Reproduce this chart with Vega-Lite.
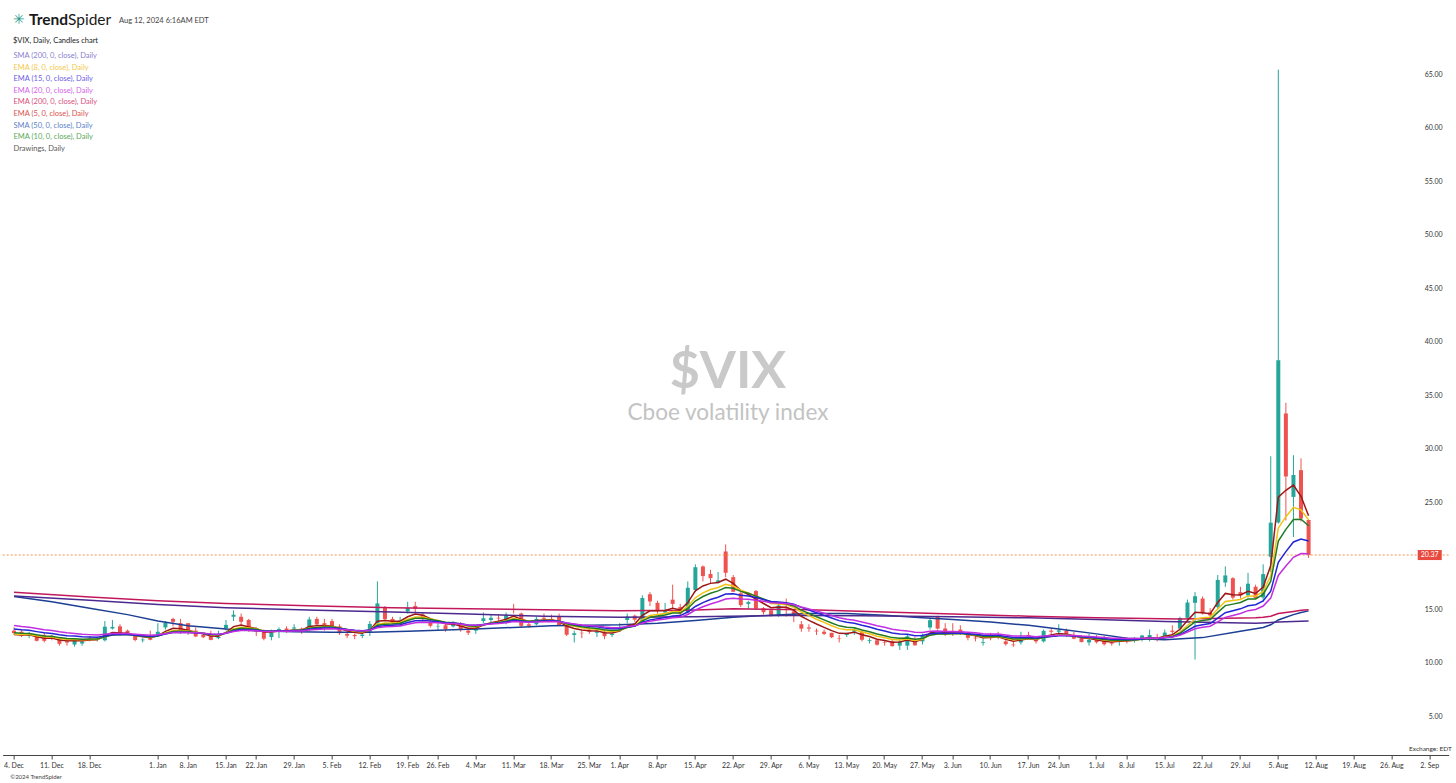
{
"$schema":"https://vega.github.io/schema/vega-lite/v6.json",
"width":1446,"height":755,
"autosize":{"type":"none"},
"padding":{"left":2.65,"top":0,"right":7.35,"bottom":28},
"background":"white",
"config":{"view":{"stroke":null},"font":"Lato","axis":{"grid":false}},
"datasets":{
"candles":[
{"d":"2023-12-04","o":13.3,"h":13.6,"l":12.9,"c":13.08},{"d":"2023-12-05","o":13.2,"h":13.4,"l":12.7,"c":12.85},{"d":"2023-12-06","o":12.8,"h":13.2,"l":12.6,"c":12.97},{"d":"2023-12-07","o":12.8,"h":12.9,"l":12.3,"c":12.35},{"d":"2023-12-08","o":12.9,"h":13.1,"l":12.2,"c":12.35},
{"d":"2023-12-11","o":12.7,"h":12.9,"l":12.4,"c":12.63},{"d":"2023-12-12","o":12.5,"h":12.6,"l":11.9,"c":12.07},{"d":"2023-12-13","o":12.3,"h":12.6,"l":11.9,"c":12.19},{"d":"2023-12-14","o":12.0,"h":12.6,"l":11.8,"c":12.48},{"d":"2023-12-15","o":12.1,"h":12.4,"l":11.9,"c":12.28},
{"d":"2023-12-18","o":12.6,"h":12.8,"l":12.3,"c":12.56},{"d":"2023-12-19","o":12.45,"h":12.7,"l":12.3,"c":12.53},{"d":"2023-12-20","o":12.4,"h":14.2,"l":12.3,"c":13.67},{"d":"2023-12-21","o":13.5,"h":14.3,"l":13.4,"c":13.65},{"d":"2023-12-22","o":13.7,"h":13.9,"l":12.8,"c":13.03},
{"d":"2023-12-26","o":13.3,"h":13.4,"l":12.9,"c":12.99},{"d":"2023-12-27","o":12.9,"h":13.0,"l":12.3,"c":12.43},{"d":"2023-12-28","o":12.4,"h":12.6,"l":12.2,"c":12.47},{"d":"2023-12-29","o":12.6,"h":13.3,"l":12.4,"c":12.45},
{"d":"2024-01-02","o":12.9,"h":14.0,"l":12.8,"c":13.2},{"d":"2024-01-03","o":13.6,"h":14.2,"l":13.4,"c":14.04},{"d":"2024-01-04","o":14.4,"h":14.5,"l":13.7,"c":14.13},{"d":"2024-01-05","o":14.0,"h":14.4,"l":13.0,"c":13.35},
{"d":"2024-01-08","o":14.0,"h":14.0,"l":12.9,"c":13.08},{"d":"2024-01-09","o":13.3,"h":13.6,"l":12.7,"c":12.76},{"d":"2024-01-10","o":12.9,"h":13.0,"l":12.6,"c":12.69},{"d":"2024-01-11","o":12.9,"h":13.3,"l":12.4,"c":12.44},{"d":"2024-01-12","o":12.6,"h":13.3,"l":12.5,"c":12.7},
{"d":"2024-01-16","o":13.5,"h":14.3,"l":13.3,"c":13.84},{"d":"2024-01-17","o":14.6,"h":15.2,"l":14.2,"c":14.79},{"d":"2024-01-18","o":14.6,"h":14.9,"l":13.8,"c":14.13},{"d":"2024-01-19","o":14.3,"h":14.4,"l":13.2,"c":13.3},
{"d":"2024-01-22","o":13.3,"h":13.6,"l":12.8,"c":13.19},{"d":"2024-01-23","o":13.2,"h":13.4,"l":12.4,"c":12.55},{"d":"2024-01-24","o":12.7,"h":13.4,"l":12.4,"c":13.14},{"d":"2024-01-25","o":13.3,"h":13.6,"l":12.6,"c":13.45},{"d":"2024-01-26","o":13.5,"h":13.7,"l":13.1,"c":13.26},
{"d":"2024-01-29","o":13.5,"h":13.9,"l":13.2,"c":13.6},{"d":"2024-01-30","o":13.5,"h":13.6,"l":13.0,"c":13.31},{"d":"2024-01-31","o":13.6,"h":14.6,"l":13.3,"c":14.35},
{"d":"2024-02-01","o":14.4,"h":14.6,"l":13.8,"c":13.88},{"d":"2024-02-02","o":14.0,"h":14.4,"l":13.3,"c":13.85},{"d":"2024-02-05","o":14.2,"h":14.4,"l":13.5,"c":13.67},{"d":"2024-02-06","o":13.7,"h":13.9,"l":12.9,"c":13.06},{"d":"2024-02-07","o":13.0,"h":13.3,"l":12.6,"c":12.83},
{"d":"2024-02-08","o":12.9,"h":13.0,"l":12.5,"c":12.79},{"d":"2024-02-09","o":12.8,"h":13.1,"l":12.6,"c":12.93},{"d":"2024-02-12","o":13.2,"h":14.2,"l":12.8,"c":13.93},{"d":"2024-02-13","o":14.0,"h":17.9,"l":13.9,"c":15.85},{"d":"2024-02-14","o":15.5,"h":15.6,"l":14.3,"c":14.38},
{"d":"2024-02-15","o":14.4,"h":14.6,"l":13.9,"c":14.01},{"d":"2024-02-16","o":13.9,"h":14.6,"l":13.7,"c":14.24},{"d":"2024-02-20","o":15.1,"h":16.0,"l":14.9,"c":15.42},{"d":"2024-02-21","o":15.6,"h":16.0,"l":15.0,"c":15.34},{"d":"2024-02-22","o":14.8,"h":15.0,"l":14.2,"c":14.54},
{"d":"2024-02-23","o":14.1,"h":14.3,"l":13.6,"c":13.75},{"d":"2024-02-26","o":13.7,"h":14.0,"l":13.3,"c":13.74},{"d":"2024-02-27","o":13.8,"h":13.9,"l":13.2,"c":13.43},{"d":"2024-02-28","o":13.7,"h":14.2,"l":13.6,"c":13.84},{"d":"2024-02-29","o":13.9,"h":14.1,"l":13.2,"c":13.4},
{"d":"2024-03-01","o":13.3,"h":13.4,"l":12.9,"c":13.11},{"d":"2024-03-04","o":13.3,"h":13.7,"l":13.0,"c":13.49},{"d":"2024-03-05","o":14.2,"h":15.0,"l":14.0,"c":14.46},{"d":"2024-03-06","o":14.3,"h":14.8,"l":14.0,"c":14.5},{"d":"2024-03-07","o":14.5,"h":14.8,"l":14.1,"c":14.44},
{"d":"2024-03-08","o":14.2,"h":15.0,"l":13.9,"c":14.74},{"d":"2024-03-11","o":15.3,"h":15.8,"l":14.9,"c":15.23},{"d":"2024-03-12","o":14.9,"h":15.0,"l":13.6,"c":13.75},{"d":"2024-03-13","o":13.9,"h":14.2,"l":13.6,"c":13.75},{"d":"2024-03-14","o":13.9,"h":14.6,"l":13.8,"c":14.4},
{"d":"2024-03-15","o":14.5,"h":14.9,"l":14.1,"c":14.41},{"d":"2024-03-18","o":14.4,"h":14.8,"l":14.1,"c":14.33},{"d":"2024-03-19","o":14.6,"h":14.9,"l":13.8,"c":13.82},{"d":"2024-03-20","o":13.8,"h":14.0,"l":12.8,"c":12.92},{"d":"2024-03-21","o":12.9,"h":13.3,"l":12.2,"c":13.06},
{"d":"2024-03-22","o":13.1,"h":13.3,"l":12.6,"c":13.06},{"d":"2024-03-25","o":13.4,"h":13.6,"l":13.0,"c":13.19},{"d":"2024-03-26","o":13.1,"h":13.4,"l":12.7,"c":13.24},{"d":"2024-03-27","o":13.2,"h":13.3,"l":12.5,"c":12.78},{"d":"2024-03-28","o":12.9,"h":13.2,"l":12.7,"c":13.01},
{"d":"2024-04-01","o":13.4,"h":14.0,"l":13.2,"c":13.65},{"d":"2024-04-02","o":14.3,"h":14.9,"l":14.0,"c":14.61},{"d":"2024-04-03","o":14.7,"h":14.8,"l":14.1,"c":14.33},{"d":"2024-04-04","o":14.1,"h":16.6,"l":13.9,"c":16.35},{"d":"2024-04-05","o":16.7,"h":16.9,"l":15.6,"c":16.03},
{"d":"2024-04-08","o":15.9,"h":16.1,"l":14.9,"c":15.19},{"d":"2024-04-09","o":15.0,"h":15.9,"l":14.8,"c":15.2},{"d":"2024-04-10","o":16.2,"h":17.6,"l":15.3,"c":15.8},{"d":"2024-04-11","o":15.5,"h":15.8,"l":14.6,"c":14.91},{"d":"2024-04-12","o":15.0,"h":17.9,"l":14.9,"c":17.31},
{"d":"2024-04-15","o":17.1,"h":19.5,"l":16.9,"c":19.23},{"d":"2024-04-16","o":19.3,"h":19.4,"l":17.9,"c":18.4},{"d":"2024-04-17","o":18.6,"h":19.0,"l":17.7,"c":18.21},{"d":"2024-04-18","o":17.8,"h":18.8,"l":17.7,"c":18.0},{"d":"2024-04-19","o":20.7,"h":21.36,"l":18.3,"c":18.71},
{"d":"2024-04-22","o":18.3,"h":18.5,"l":16.9,"c":16.94},{"d":"2024-04-23","o":16.8,"h":17.0,"l":15.5,"c":15.69},{"d":"2024-04-24","o":15.8,"h":16.1,"l":15.3,"c":15.97},{"d":"2024-04-25","o":17.0,"h":17.1,"l":15.3,"c":15.37},{"d":"2024-04-26","o":15.4,"h":15.5,"l":14.8,"c":15.03},
{"d":"2024-04-29","o":15.2,"h":15.3,"l":14.6,"c":14.67},{"d":"2024-04-30","o":14.7,"h":15.9,"l":14.6,"c":15.65},
{"d":"2024-05-01","o":15.5,"h":16.3,"l":14.6,"c":15.39},{"d":"2024-05-02","o":15.1,"h":15.2,"l":14.1,"c":14.68},{"d":"2024-05-03","o":13.9,"h":14.2,"l":13.2,"c":13.49},
{"d":"2024-05-06","o":13.6,"h":13.9,"l":13.2,"c":13.49},{"d":"2024-05-07","o":13.3,"h":13.5,"l":12.9,"c":13.23},{"d":"2024-05-08","o":13.2,"h":13.4,"l":12.9,"c":13.0},{"d":"2024-05-09","o":13.1,"h":13.1,"l":12.6,"c":12.69},{"d":"2024-05-10","o":12.6,"h":12.9,"l":12.2,"c":12.55},
{"d":"2024-05-13","o":12.9,"h":13.1,"l":12.7,"c":12.99},{"d":"2024-05-14","o":13.2,"h":13.6,"l":12.9,"c":13.42},{"d":"2024-05-15","o":13.2,"h":13.3,"l":12.3,"c":12.45},{"d":"2024-05-16","o":12.35,"h":12.6,"l":12.1,"c":12.42},{"d":"2024-05-17","o":12.4,"h":12.5,"l":11.9,"c":11.99},
{"d":"2024-05-20","o":12.2,"h":12.4,"l":11.9,"c":12.15},{"d":"2024-05-21","o":12.3,"h":12.5,"l":11.8,"c":11.86},{"d":"2024-05-22","o":11.9,"h":12.6,"l":11.5,"c":12.29},{"d":"2024-05-23","o":11.9,"h":12.9,"l":11.5,"c":12.77},{"d":"2024-05-24","o":12.5,"h":12.7,"l":11.9,"c":11.93},
{"d":"2024-05-28","o":12.3,"h":13.0,"l":12.0,"c":12.92},{"d":"2024-05-29","o":13.6,"h":14.5,"l":13.4,"c":14.28},{"d":"2024-05-30","o":14.6,"h":14.7,"l":13.4,"c":13.49},{"d":"2024-05-31","o":13.5,"h":14.0,"l":12.8,"c":12.92},
{"d":"2024-06-03","o":13.2,"h":14.0,"l":12.8,"c":13.11},{"d":"2024-06-04","o":13.4,"h":13.8,"l":12.9,"c":13.16},{"d":"2024-06-05","o":12.9,"h":13.0,"l":12.4,"c":12.63},{"d":"2024-06-06","o":12.65,"h":12.8,"l":12.3,"c":12.58},{"d":"2024-06-07","o":12.15,"h":12.6,"l":11.9,"c":12.22},
{"d":"2024-06-10","o":12.8,"h":13.1,"l":12.4,"c":12.74},{"d":"2024-06-11","o":12.9,"h":13.2,"l":12.5,"c":12.85},{"d":"2024-06-12","o":12.3,"h":12.5,"l":11.9,"c":12.04},{"d":"2024-06-13","o":12.0,"h":12.3,"l":11.8,"c":11.94},{"d":"2024-06-14","o":12.2,"h":13.2,"l":12.0,"c":12.66},
{"d":"2024-06-17","o":12.9,"h":13.2,"l":12.5,"c":12.75},{"d":"2024-06-18","o":12.6,"h":12.8,"l":12.1,"c":12.3},{"d":"2024-06-20","o":12.3,"h":13.4,"l":12.2,"c":13.28},{"d":"2024-06-21","o":13.3,"h":13.5,"l":12.9,"c":13.2},
{"d":"2024-06-24","o":13.2,"h":13.9,"l":12.9,"c":13.33},{"d":"2024-06-25","o":13.3,"h":13.5,"l":12.7,"c":12.84},{"d":"2024-06-26","o":12.9,"h":13.2,"l":12.5,"c":12.55},{"d":"2024-06-27","o":12.6,"h":12.9,"l":12.2,"c":12.24},{"d":"2024-06-28","o":12.2,"h":13.0,"l":11.9,"c":12.44},
{"d":"2024-07-01","o":12.6,"h":12.9,"l":12.1,"c":12.22},{"d":"2024-07-02","o":12.6,"h":12.8,"l":11.9,"c":12.03},{"d":"2024-07-03","o":12.2,"h":12.3,"l":11.9,"c":12.09},{"d":"2024-07-05","o":12.3,"h":12.6,"l":11.9,"c":12.48},
{"d":"2024-07-08","o":12.6,"h":12.7,"l":12.1,"c":12.37},{"d":"2024-07-09","o":12.4,"h":12.7,"l":12.2,"c":12.51},{"d":"2024-07-10","o":12.6,"h":12.9,"l":12.3,"c":12.85},{"d":"2024-07-11","o":12.6,"h":13.4,"l":12.3,"c":12.89},{"d":"2024-07-12","o":12.6,"h":13.0,"l":12.3,"c":12.46},
{"d":"2024-07-15","o":12.7,"h":13.4,"l":12.6,"c":13.12},{"d":"2024-07-16","o":13.3,"h":13.8,"l":12.9,"c":13.19},{"d":"2024-07-17","o":13.5,"h":14.6,"l":13.3,"c":14.48},{"d":"2024-07-18","o":14.5,"h":16.2,"l":14.2,"c":15.93},{"d":"2024-07-19","o":15.9,"h":16.9,"l":10.6,"c":16.52},
{"d":"2024-07-22","o":16.3,"h":16.5,"l":14.8,"c":14.91},{"d":"2024-07-23","o":15.0,"h":15.4,"l":14.5,"c":14.72},{"d":"2024-07-24","o":15.5,"h":18.5,"l":15.3,"c":18.04},{"d":"2024-07-25","o":17.8,"h":19.3,"l":17.4,"c":18.46},{"d":"2024-07-26","o":18.2,"h":18.3,"l":16.2,"c":16.39},
{"d":"2024-07-29","o":16.9,"h":17.4,"l":16.3,"c":16.6},{"d":"2024-07-30","o":16.6,"h":18.7,"l":16.4,"c":17.69},{"d":"2024-07-31","o":17.4,"h":17.6,"l":16.3,"c":16.36},
{"d":"2024-08-01","o":16.4,"h":19.5,"l":16.0,"c":18.59},{"d":"2024-08-02","o":20.2,"h":29.6,"l":18.8,"c":23.39},
{"d":"2024-08-05","o":23.4,"h":65.73,"l":23.3,"c":38.57},{"d":"2024-08-06","o":33.6,"h":34.6,"l":23.6,"c":27.71},{"d":"2024-08-07","o":25.8,"h":29.7,"l":22.05,"c":27.85},{"d":"2024-08-08","o":28.3,"h":29.4,"l":23.5,"c":23.79},{"d":"2024-08-09","o":23.64,"h":23.7,"l":20.1,"c":20.37}
],
"ema":[
{"d":"2023-12-04","e5":12.93,"e8":12.98,"e10":13.10,"e15":13.45,"e20":13.78},
{"d":"2023-12-05","e5":12.90,"e8":12.95,"e10":13.05,"e15":13.38,"e20":13.69},
{"d":"2023-12-06","e5":12.92,"e8":12.95,"e10":13.04,"e15":13.33,"e20":13.62},
{"d":"2023-12-07","e5":12.73,"e8":12.82,"e10":12.91,"e15":13.21,"e20":13.50},
{"d":"2023-12-08","e5":12.60,"e8":12.72,"e10":12.81,"e15":13.10,"e20":13.39},
{"d":"2023-12-11","e5":12.61,"e8":12.70,"e10":12.78,"e15":13.04,"e20":13.32},
{"d":"2023-12-12","e5":12.43,"e8":12.56,"e10":12.65,"e15":12.92,"e20":13.20},
{"d":"2023-12-13","e5":12.35,"e8":12.48,"e10":12.57,"e15":12.83,"e20":13.10},
{"d":"2023-12-14","e5":12.39,"e8":12.48,"e10":12.55,"e15":12.79,"e20":13.04},
{"d":"2023-12-15","e5":12.35,"e8":12.44,"e10":12.50,"e15":12.73,"e20":12.97},
{"d":"2023-12-18","e5":12.42,"e8":12.47,"e10":12.51,"e15":12.71,"e20":12.93},
{"d":"2023-12-19","e5":12.46,"e8":12.48,"e10":12.51,"e15":12.69,"e20":12.89},
{"d":"2023-12-20","e5":12.86,"e8":12.74,"e10":12.72,"e15":12.81,"e20":12.96},
{"d":"2023-12-21","e5":13.12,"e8":12.94,"e10":12.89,"e15":12.92,"e20":13.03},
{"d":"2023-12-22","e5":13.09,"e8":12.96,"e10":12.92,"e15":12.93,"e20":13.03},
{"d":"2023-12-26","e5":13.06,"e8":12.97,"e10":12.93,"e15":12.94,"e20":13.03},
{"d":"2023-12-27","e5":12.85,"e8":12.85,"e10":12.84,"e15":12.88,"e20":12.97},
{"d":"2023-12-28","e5":12.72,"e8":12.77,"e10":12.77,"e15":12.83,"e20":12.92},
{"d":"2023-12-29","e5":12.63,"e8":12.70,"e10":12.71,"e15":12.78,"e20":12.88},
{"d":"2024-01-02","e5":12.82,"e8":12.81,"e10":12.80,"e15":12.83,"e20":12.91},
{"d":"2024-01-03","e5":13.23,"e8":13.08,"e10":13.03,"e15":12.98,"e20":13.02},
{"d":"2024-01-04","e5":13.53,"e8":13.31,"e10":13.23,"e15":13.12,"e20":13.13},
{"d":"2024-01-05","e5":13.47,"e8":13.32,"e10":13.25,"e15":13.15,"e20":13.15},
{"d":"2024-01-08","e5":13.34,"e8":13.27,"e10":13.22,"e15":13.14,"e20":13.14},
{"d":"2024-01-09","e5":13.15,"e8":13.16,"e10":13.14,"e15":13.09,"e20":13.10},
{"d":"2024-01-10","e5":13.00,"e8":13.06,"e10":13.06,"e15":13.04,"e20":13.06},
{"d":"2024-01-11","e5":12.81,"e8":12.92,"e10":12.95,"e15":12.97,"e20":13.00},
{"d":"2024-01-12","e5":12.77,"e8":12.87,"e10":12.90,"e15":12.94,"e20":12.97},
{"d":"2024-01-16","e5":13.13,"e8":13.09,"e10":13.07,"e15":13.05,"e20":13.05},
{"d":"2024-01-17","e5":13.68,"e8":13.47,"e10":13.38,"e15":13.27,"e20":13.22},
{"d":"2024-01-18","e5":13.83,"e8":13.62,"e10":13.52,"e15":13.38,"e20":13.31},
{"d":"2024-01-19","e5":13.65,"e8":13.55,"e10":13.48,"e15":13.37,"e20":13.31},
{"d":"2024-01-22","e5":13.50,"e8":13.47,"e10":13.43,"e15":13.35,"e20":13.30},
{"d":"2024-01-23","e5":13.18,"e8":13.27,"e10":13.27,"e15":13.25,"e20":13.23},
{"d":"2024-01-24","e5":13.17,"e8":13.24,"e10":13.25,"e15":13.24,"e20":13.22},
{"d":"2024-01-25","e5":13.26,"e8":13.29,"e10":13.29,"e15":13.27,"e20":13.24},
{"d":"2024-01-26","e5":13.26,"e8":13.28,"e10":13.28,"e15":13.27,"e20":13.24},
{"d":"2024-01-29","e5":13.37,"e8":13.35,"e10":13.34,"e15":13.31,"e20":13.27},
{"d":"2024-01-30","e5":13.35,"e8":13.34,"e10":13.33,"e15":13.31,"e20":13.27},
{"d":"2024-01-31","e5":13.68,"e8":13.56,"e10":13.52,"e15":13.44,"e20":13.37},
{"d":"2024-02-01","e5":13.75,"e8":13.63,"e10":13.59,"e15":13.50,"e20":13.42},
{"d":"2024-02-02","e5":13.78,"e8":13.68,"e10":13.64,"e15":13.54,"e20":13.46},
{"d":"2024-02-05","e5":13.74,"e8":13.68,"e10":13.65,"e15":13.56,"e20":13.48},
{"d":"2024-02-06","e5":13.51,"e8":13.54,"e10":13.54,"e15":13.50,"e20":13.44},
{"d":"2024-02-07","e5":13.28,"e8":13.38,"e10":13.41,"e15":13.42,"e20":13.38},
{"d":"2024-02-08","e5":13.12,"e8":13.25,"e10":13.30,"e15":13.34,"e20":13.32},
{"d":"2024-02-09","e5":13.06,"e8":13.18,"e10":13.23,"e15":13.29,"e20":13.28},
{"d":"2024-02-12","e5":13.35,"e8":13.35,"e10":13.36,"e15":13.37,"e20":13.34},
{"d":"2024-02-13","e5":14.18,"e8":13.91,"e10":13.81,"e15":13.68,"e20":13.58},
{"d":"2024-02-14","e5":14.25,"e8":14.01,"e10":13.91,"e15":13.77,"e20":13.66},
{"d":"2024-02-15","e5":14.17,"e8":14.01,"e10":13.93,"e15":13.80,"e20":13.69},
{"d":"2024-02-16","e5":14.19,"e8":14.06,"e10":13.99,"e15":13.86,"e20":13.74},
{"d":"2024-02-20","e5":14.60,"e8":14.36,"e10":14.25,"e15":14.06,"e20":13.90},
{"d":"2024-02-21","e5":14.85,"e8":14.58,"e10":14.45,"e15":14.22,"e20":14.04},
{"d":"2024-02-22","e5":14.75,"e8":14.57,"e10":14.47,"e15":14.26,"e20":14.09},
{"d":"2024-02-23","e5":14.42,"e8":14.39,"e10":14.34,"e15":14.20,"e20":14.06},
{"d":"2024-02-26","e5":14.19,"e8":14.25,"e10":14.23,"e15":14.14,"e20":14.03},
{"d":"2024-02-27","e5":13.94,"e8":14.07,"e10":14.08,"e15":14.05,"e20":13.97},
{"d":"2024-02-28","e5":13.91,"e8":14.02,"e10":14.04,"e15":14.02,"e20":13.96},
{"d":"2024-02-29","e5":13.74,"e8":13.88,"e10":13.92,"e15":13.94,"e20":13.91},
{"d":"2024-03-01","e5":13.53,"e8":13.71,"e10":13.77,"e15":13.84,"e20":13.83},
{"d":"2024-03-04","e5":13.52,"e8":13.66,"e10":13.72,"e15":13.80,"e20":13.80},
{"d":"2024-03-05","e5":13.83,"e8":13.84,"e10":13.85,"e15":13.88,"e20":13.86},
{"d":"2024-03-06","e5":14.05,"e8":13.99,"e10":13.97,"e15":13.96,"e20":13.92},
{"d":"2024-03-07","e5":14.18,"e8":14.09,"e10":14.06,"e15":14.02,"e20":13.97},
{"d":"2024-03-08","e5":14.37,"e8":14.23,"e10":14.18,"e15":14.11,"e20":14.04},
{"d":"2024-03-11","e5":14.66,"e8":14.45,"e10":14.37,"e15":14.25,"e20":14.15},
{"d":"2024-03-12","e5":14.36,"e8":14.29,"e10":14.26,"e15":14.19,"e20":14.11},
{"d":"2024-03-13","e5":14.16,"e8":14.17,"e10":14.17,"e15":14.14,"e20":14.08},
{"d":"2024-03-14","e5":14.24,"e8":14.22,"e10":14.21,"e15":14.17,"e20":14.11},
{"d":"2024-03-15","e5":14.30,"e8":14.26,"e10":14.25,"e15":14.20,"e20":14.14},
{"d":"2024-03-18","e5":14.31,"e8":14.28,"e10":14.26,"e15":14.22,"e20":14.16},
{"d":"2024-03-19","e5":14.15,"e8":14.18,"e10":14.18,"e15":14.17,"e20":14.13},
{"d":"2024-03-20","e5":13.74,"e8":13.90,"e10":13.95,"e15":14.01,"e20":14.01},
{"d":"2024-03-21","e5":13.51,"e8":13.71,"e10":13.79,"e15":13.89,"e20":13.92},
{"d":"2024-03-22","e5":13.36,"e8":13.57,"e10":13.66,"e15":13.79,"e20":13.84},
{"d":"2024-03-25","e5":13.30,"e8":13.49,"e10":13.57,"e15":13.72,"e20":13.78},
{"d":"2024-03-26","e5":13.28,"e8":13.43,"e10":13.51,"e15":13.66,"e20":13.73},
{"d":"2024-03-27","e5":13.11,"e8":13.29,"e10":13.38,"e15":13.55,"e20":13.64},
{"d":"2024-03-28","e5":13.08,"e8":13.23,"e10":13.31,"e15":13.48,"e20":13.58},
{"d":"2024-04-01","e5":13.27,"e8":13.32,"e10":13.37,"e15":13.50,"e20":13.59},
{"d":"2024-04-02","e5":13.72,"e8":13.61,"e10":13.60,"e15":13.64,"e20":13.69},
{"d":"2024-04-03","e5":13.92,"e8":13.77,"e10":13.73,"e15":13.73,"e20":13.75},
{"d":"2024-04-04","e5":14.73,"e8":14.34,"e10":14.21,"e15":14.06,"e20":14.00},
{"d":"2024-04-05","e5":15.16,"e8":14.72,"e10":14.54,"e15":14.31,"e20":14.19},
{"d":"2024-04-08","e5":15.17,"e8":14.82,"e10":14.66,"e15":14.42,"e20":14.29},
{"d":"2024-04-09","e5":15.18,"e8":14.90,"e10":14.76,"e15":14.52,"e20":14.38},
{"d":"2024-04-10","e5":15.39,"e8":15.10,"e10":14.95,"e15":14.68,"e20":14.51},
{"d":"2024-04-11","e5":15.23,"e8":15.06,"e10":14.94,"e15":14.71,"e20":14.55},
{"d":"2024-04-12","e5":15.92,"e8":15.56,"e10":15.37,"e15":15.04,"e20":14.81},
{"d":"2024-04-15","e5":17.02,"e8":16.38,"e10":16.07,"e15":15.56,"e20":15.23},
{"d":"2024-04-16","e5":17.48,"e8":16.83,"e10":16.49,"e15":15.92,"e20":15.53},
{"d":"2024-04-17","e5":17.72,"e8":17.14,"e10":16.80,"e15":16.21,"e20":15.79},
{"d":"2024-04-18","e5":17.81,"e8":17.33,"e10":17.02,"e15":16.43,"e20":16.00},
{"d":"2024-04-19","e5":18.11,"e8":17.64,"e10":17.33,"e15":16.72,"e20":16.26},
{"d":"2024-04-22","e5":17.72,"e8":17.48,"e10":17.26,"e15":16.75,"e20":16.32},
{"d":"2024-04-23","e5":17.04,"e8":17.08,"e10":16.97,"e15":16.62,"e20":16.26},
{"d":"2024-04-24","e5":16.68,"e8":16.83,"e10":16.79,"e15":16.54,"e20":16.23},
{"d":"2024-04-25","e5":16.24,"e8":16.51,"e10":16.53,"e15":16.39,"e20":16.15},
{"d":"2024-04-26","e5":15.84,"e8":16.18,"e10":16.26,"e15":16.22,"e20":16.04},
{"d":"2024-04-29","e5":15.45,"e8":15.84,"e10":15.97,"e15":16.03,"e20":15.91},
{"d":"2024-04-30","e5":15.52,"e8":15.80,"e10":15.91,"e15":15.98,"e20":15.89},
{"d":"2024-05-01","e5":15.48,"e8":15.71,"e10":15.82,"e15":15.91,"e20":15.84},
{"d":"2024-05-02","e5":15.21,"e8":15.48,"e10":15.61,"e15":15.76,"e20":15.73},
{"d":"2024-05-03","e5":14.64,"e8":15.04,"e10":15.22,"e15":15.48,"e20":15.52},
{"d":"2024-05-06","e5":14.26,"e8":14.70,"e10":14.91,"e15":15.23,"e20":15.33},
{"d":"2024-05-07","e5":13.92,"e8":14.37,"e10":14.60,"e15":14.98,"e20":15.13},
{"d":"2024-05-08","e5":13.61,"e8":14.07,"e10":14.31,"e15":14.73,"e20":14.93},
{"d":"2024-05-09","e5":13.30,"e8":13.76,"e10":14.02,"e15":14.48,"e20":14.72},
{"d":"2024-05-10","e5":13.05,"e8":13.49,"e10":13.75,"e15":14.24,"e20":14.51},
{"d":"2024-05-13","e5":13.03,"e8":13.38,"e10":13.61,"e15":14.08,"e20":14.37},
{"d":"2024-05-14","e5":13.16,"e8":13.39,"e10":13.58,"e15":14.00,"e20":14.28},
{"d":"2024-05-15","e5":12.92,"e8":13.18,"e10":13.37,"e15":13.81,"e20":14.11},
{"d":"2024-05-16","e5":12.75,"e8":13.01,"e10":13.20,"e15":13.64,"e20":13.95},
{"d":"2024-05-17","e5":12.50,"e8":12.78,"e10":12.98,"e15":13.43,"e20":13.76},
{"d":"2024-05-20","e5":12.38,"e8":12.64,"e10":12.83,"e15":13.27,"e20":13.61},
{"d":"2024-05-21","e5":12.21,"e8":12.47,"e10":12.65,"e15":13.09,"e20":13.44},
{"d":"2024-05-22","e5":12.24,"e8":12.43,"e10":12.58,"e15":12.99,"e20":13.33},
{"d":"2024-05-23","e5":12.42,"e8":12.51,"e10":12.61,"e15":12.96,"e20":13.28},
{"d":"2024-05-24","e5":12.26,"e8":12.38,"e10":12.49,"e15":12.83,"e20":13.15},
{"d":"2024-05-28","e5":12.48,"e8":12.50,"e10":12.57,"e15":12.84,"e20":13.13},
{"d":"2024-05-29","e5":13.08,"e8":12.90,"e10":12.88,"e15":13.02,"e20":13.24},
{"d":"2024-05-30","e5":13.22,"e8":13.03,"e10":12.99,"e15":13.08,"e20":13.26},
{"d":"2024-05-31","e5":13.12,"e8":13.01,"e10":12.98,"e15":13.06,"e20":13.23},
{"d":"2024-06-03","e5":13.12,"e8":13.03,"e10":13.00,"e15":13.07,"e20":13.22},
{"d":"2024-06-04","e5":13.13,"e8":13.06,"e10":13.03,"e15":13.08,"e20":13.21},
{"d":"2024-06-05","e5":12.96,"e8":12.96,"e10":12.96,"e15":13.02,"e20":13.15},
{"d":"2024-06-06","e5":12.83,"e8":12.88,"e10":12.89,"e15":12.97,"e20":13.10},
{"d":"2024-06-07","e5":12.63,"e8":12.73,"e10":12.77,"e15":12.88,"e20":13.02},
{"d":"2024-06-10","e5":12.67,"e8":12.73,"e10":12.76,"e15":12.86,"e20":12.99},
{"d":"2024-06-11","e5":12.73,"e8":12.76,"e10":12.78,"e15":12.86,"e20":12.98},
{"d":"2024-06-12","e5":12.50,"e8":12.60,"e10":12.65,"e15":12.76,"e20":12.89},
{"d":"2024-06-13","e5":12.31,"e8":12.45,"e10":12.52,"e15":12.66,"e20":12.80},
{"d":"2024-06-14","e5":12.43,"e8":12.50,"e10":12.55,"e15":12.66,"e20":12.79},
{"d":"2024-06-17","e5":12.54,"e8":12.56,"e10":12.59,"e15":12.67,"e20":12.79},
{"d":"2024-06-18","e5":12.46,"e8":12.50,"e10":12.54,"e15":12.62,"e20":12.74},
{"d":"2024-06-20","e5":12.73,"e8":12.67,"e10":12.67,"e15":12.70,"e20":12.79},
{"d":"2024-06-21","e5":12.89,"e8":12.79,"e10":12.77,"e15":12.76,"e20":12.83},
{"d":"2024-06-24","e5":13.04,"e8":12.91,"e10":12.87,"e15":12.83,"e20":12.88},
{"d":"2024-06-25","e5":12.97,"e8":12.89,"e10":12.86,"e15":12.83,"e20":12.88},
{"d":"2024-06-26","e5":12.83,"e8":12.81,"e10":12.80,"e15":12.80,"e20":12.85},
{"d":"2024-06-27","e5":12.63,"e8":12.68,"e10":12.70,"e15":12.73,"e20":12.79},
{"d":"2024-06-28","e5":12.57,"e8":12.63,"e10":12.65,"e15":12.69,"e20":12.76},
{"d":"2024-07-01","e5":12.45,"e8":12.54,"e10":12.57,"e15":12.63,"e20":12.71},
{"d":"2024-07-02","e5":12.31,"e8":12.43,"e10":12.47,"e15":12.56,"e20":12.65},
{"d":"2024-07-03","e5":12.24,"e8":12.35,"e10":12.40,"e15":12.50,"e20":12.60},
{"d":"2024-07-05","e5":12.32,"e8":12.38,"e10":12.41,"e15":12.50,"e20":12.59},
{"d":"2024-07-08","e5":12.34,"e8":12.38,"e10":12.40,"e15":12.48,"e20":12.57},
{"d":"2024-07-09","e5":12.40,"e8":12.41,"e10":12.42,"e15":12.48,"e20":12.56},
{"d":"2024-07-10","e5":12.55,"e8":12.51,"e10":12.50,"e15":12.53,"e20":12.59},
{"d":"2024-07-11","e5":12.66,"e8":12.59,"e10":12.57,"e15":12.58,"e20":12.62},
{"d":"2024-07-12","e5":12.59,"e8":12.56,"e10":12.55,"e15":12.57,"e20":12.60},
{"d":"2024-07-15","e5":12.77,"e8":12.68,"e10":12.65,"e15":12.64,"e20":12.65},
{"d":"2024-07-16","e5":12.91,"e8":12.79,"e10":12.75,"e15":12.71,"e20":12.70},
{"d":"2024-07-17","e5":13.43,"e8":13.17,"e10":13.06,"e15":12.93,"e20":12.87},
{"d":"2024-07-18","e5":14.26,"e8":13.78,"e10":13.58,"e15":13.31,"e20":13.16},
{"d":"2024-07-19","e5":15.01,"e8":14.39,"e10":14.11,"e15":13.71,"e20":13.48},
{"d":"2024-07-22","e5":14.98,"e8":14.51,"e10":14.26,"e15":13.86,"e20":13.62},
{"d":"2024-07-23","e5":14.89,"e8":14.56,"e10":14.34,"e15":13.97,"e20":13.72},
{"d":"2024-07-24","e5":15.94,"e8":15.33,"e10":15.01,"e15":14.48,"e20":14.13},
{"d":"2024-07-25","e5":16.78,"e8":16.03,"e10":15.64,"e15":14.98,"e20":14.54},
{"d":"2024-07-26","e5":16.65,"e8":16.11,"e10":15.78,"e15":15.16,"e20":14.72},
{"d":"2024-07-29","e5":16.63,"e8":16.22,"e10":15.93,"e15":15.34,"e20":14.90},
{"d":"2024-07-30","e5":16.98,"e8":16.55,"e10":16.25,"e15":15.63,"e20":15.17},
{"d":"2024-07-31","e5":16.77,"e8":16.51,"e10":16.27,"e15":15.72,"e20":15.28},
{"d":"2024-08-01","e5":17.38,"e8":16.97,"e10":16.69,"e15":16.08,"e20":15.60},
{"d":"2024-08-02","e5":19.38,"e8":18.40,"e10":17.91,"e15":16.99,"e20":16.34},
{"d":"2024-08-05","e5":25.78,"e8":22.88,"e10":21.67,"e15":19.69,"e20":18.46},
{"d":"2024-08-06","e5":26.42,"e8":23.95,"e10":22.77,"e15":20.69,"e20":19.34},
{"d":"2024-08-07","e5":26.90,"e8":24.82,"e10":23.69,"e15":21.59,"e20":20.15},
{"d":"2024-08-08","e5":25.86,"e8":24.59,"e10":23.71,"e15":21.87,"e20":20.50},
{"d":"2024-08-09","e5":24.03,"e8":23.65,"e10":23.10,"e15":21.68,"e20":20.49}
],
"long":[
{"d":"2023-12-04","s":"s50","v":16.5},{"d":"2023-12-11","s":"s50","v":16.0},{"d":"2023-12-18","s":"s50","v":15.4},{"d":"2023-12-26","s":"s50","v":14.8},{"d":"2024-01-02","s":"s50","v":14.2},{"d":"2024-01-08","s":"s50","v":13.75},{"d":"2024-01-16","s":"s50","v":13.45},{"d":"2024-01-22","s":"s50","v":13.3},{"d":"2024-01-29","s":"s50","v":13.2},{"d":"2024-02-05","s":"s50","v":13.15},{"d":"2024-02-12","s":"s50","v":13.15},{"d":"2024-02-20","s":"s50","v":13.25},{"d":"2024-02-26","s":"s50","v":13.35},{"d":"2024-03-04","s":"s50","v":13.45},{"d":"2024-03-11","s":"s50","v":13.6},{"d":"2024-03-18","s":"s50","v":13.75},{"d":"2024-03-25","s":"s50","v":13.8},{"d":"2024-04-01","s":"s50","v":13.85},{"d":"2024-04-08","s":"s50","v":14.0},{"d":"2024-04-15","s":"s50","v":14.25},{"d":"2024-04-22","s":"s50","v":14.55},{"d":"2024-04-29","s":"s50","v":14.75},{"d":"2024-05-06","s":"s50","v":14.9},{"d":"2024-05-13","s":"s50","v":14.9},{"d":"2024-05-20","s":"s50","v":14.75},{"d":"2024-05-28","s":"s50","v":14.5},{"d":"2024-06-03","s":"s50","v":14.35},{"d":"2024-06-10","s":"s50","v":14.1},{"d":"2024-06-17","s":"s50","v":13.8},{"d":"2024-06-24","s":"s50","v":13.45},{"d":"2024-07-01","s":"s50","v":13.0},{"d":"2024-07-08","s":"s50","v":12.6},{"d":"2024-07-15","s":"s50","v":12.45},{"d":"2024-07-22","s":"s50","v":12.65},{"d":"2024-07-29","s":"s50","v":13.25},{"d":"2024-08-01","s":"s50","v":13.6},{"d":"2024-08-02","s":"s50","v":13.85},{"d":"2024-08-05","s":"s50","v":14.3},{"d":"2024-08-06","s":"s50","v":14.55},{"d":"2024-08-07","s":"s50","v":14.8},{"d":"2024-08-08","s":"s50","v":15.0},{"d":"2024-08-09","s":"s50","v":15.15},
{"d":"2023-12-04","s":"s200","v":16.55},{"d":"2023-12-18","s":"s200","v":16.15},{"d":"2024-01-02","s":"s200","v":15.75},{"d":"2024-01-16","s":"s200","v":15.45},{"d":"2024-02-01","s":"s200","v":15.2},{"d":"2024-02-15","s":"s200","v":15.05},{"d":"2024-03-01","s":"s200","v":14.85},{"d":"2024-03-15","s":"s200","v":14.65},{"d":"2024-04-01","s":"s200","v":14.55},{"d":"2024-04-15","s":"s200","v":14.6},{"d":"2024-05-01","s":"s200","v":14.72},{"d":"2024-05-15","s":"s200","v":14.7},{"d":"2024-06-03","s":"s200","v":14.6},{"d":"2024-06-17","s":"s200","v":14.5},{"d":"2024-07-01","s":"s200","v":14.35},{"d":"2024-07-15","s":"s200","v":14.15},{"d":"2024-07-31","s":"s200","v":14.0},{"d":"2024-08-05","s":"s200","v":14.1},{"d":"2024-08-09","s":"s200","v":14.2},
{"d":"2023-12-04","s":"x200","v":16.9},{"d":"2023-12-18","s":"x200","v":16.45},{"d":"2024-01-02","s":"x200","v":16.1},{"d":"2024-01-16","s":"x200","v":15.85},{"d":"2024-02-01","s":"x200","v":15.6},{"d":"2024-02-15","s":"x200","v":15.45},{"d":"2024-03-01","s":"x200","v":15.35},{"d":"2024-03-15","s":"x200","v":15.25},{"d":"2024-04-01","s":"x200","v":15.15},{"d":"2024-04-12","s":"x200","v":15.2},{"d":"2024-04-22","s":"x200","v":15.35},{"d":"2024-05-06","s":"x200","v":15.25},{"d":"2024-05-20","s":"x200","v":15.05},{"d":"2024-06-03","s":"x200","v":14.85},{"d":"2024-06-17","s":"x200","v":14.65},{"d":"2024-07-01","s":"x200","v":14.5},{"d":"2024-07-17","s":"x200","v":14.4},{"d":"2024-07-31","s":"x200","v":14.5},{"d":"2024-08-01","s":"x200","v":14.55},{"d":"2024-08-02","s":"x200","v":14.65},{"d":"2024-08-05","s":"x200","v":14.9},{"d":"2024-08-06","s":"x200","v":15.0},{"d":"2024-08-07","s":"x200","v":15.1},{"d":"2024-08-08","s":"x200","v":15.2},{"d":"2024-08-09","s":"x200","v":15.25}
]
},
"layer":[
{"data":{"name":"candles"},"mark":{"type":"rule","strokeWidth":1},
 "encoding":{
  "x":{"field":"d","type":"ordinal","scale":{"domain":["2023-12-01","2023-12-04","2023-12-05","2023-12-06","2023-12-07","2023-12-08","2023-12-11","2023-12-12","2023-12-13","2023-12-14","2023-12-15","2023-12-18","2023-12-19","2023-12-20","2023-12-21","2023-12-22","2023-12-26","2023-12-27","2023-12-28","2023-12-29","2024-01-02","2024-01-03","2024-01-04","2024-01-05","2024-01-08","2024-01-09","2024-01-10","2024-01-11","2024-01-12","2024-01-16","2024-01-17","2024-01-18","2024-01-19","2024-01-22","2024-01-23","2024-01-24","2024-01-25","2024-01-26","2024-01-29","2024-01-30","2024-01-31","2024-02-01","2024-02-02","2024-02-05","2024-02-06","2024-02-07","2024-02-08","2024-02-09","2024-02-12","2024-02-13","2024-02-14","2024-02-15","2024-02-16","2024-02-20","2024-02-21","2024-02-22","2024-02-23","2024-02-26","2024-02-27","2024-02-28","2024-02-29","2024-03-01","2024-03-04","2024-03-05","2024-03-06","2024-03-07","2024-03-08","2024-03-11","2024-03-12","2024-03-13","2024-03-14","2024-03-15","2024-03-18","2024-03-19","2024-03-20","2024-03-21","2024-03-22","2024-03-25","2024-03-26","2024-03-27","2024-03-28","2024-04-01","2024-04-02","2024-04-03","2024-04-04","2024-04-05","2024-04-08","2024-04-09","2024-04-10","2024-04-11","2024-04-12","2024-04-15","2024-04-16","2024-04-17","2024-04-18","2024-04-19","2024-04-22","2024-04-23","2024-04-24","2024-04-25","2024-04-26","2024-04-29","2024-04-30","2024-05-01","2024-05-02","2024-05-03","2024-05-06","2024-05-07","2024-05-08","2024-05-09","2024-05-10","2024-05-13","2024-05-14","2024-05-15","2024-05-16","2024-05-17","2024-05-20","2024-05-21","2024-05-22","2024-05-23","2024-05-24","2024-05-28","2024-05-29","2024-05-30","2024-05-31","2024-06-03","2024-06-04","2024-06-05","2024-06-06","2024-06-07","2024-06-10","2024-06-11","2024-06-12","2024-06-13","2024-06-14","2024-06-17","2024-06-18","2024-06-20","2024-06-21","2024-06-24","2024-06-25","2024-06-26","2024-06-27","2024-06-28","2024-07-01","2024-07-02","2024-07-03","2024-07-05","2024-07-08","2024-07-09","2024-07-10","2024-07-11","2024-07-12","2024-07-15","2024-07-16","2024-07-17","2024-07-18","2024-07-19","2024-07-22","2024-07-23","2024-07-24","2024-07-25","2024-07-26","2024-07-29","2024-07-30","2024-07-31","2024-08-01","2024-08-02","2024-08-05","2024-08-06","2024-08-07","2024-08-08","2024-08-09","2024-08-12","2024-08-13","2024-08-14","2024-08-15","2024-08-16","2024-08-19","2024-08-20","2024-08-21","2024-08-22","2024-08-23","2024-08-26","2024-08-27","2024-08-28","2024-08-29","2024-08-30","2024-09-02","2024-09-03","2024-09-04"],"paddingInner":0,"paddingOuter":0},
   "axis":{"values":["2023-12-04","2023-12-11","2023-12-18","2024-01-02","2024-01-08","2024-01-16","2024-01-22","2024-01-29","2024-02-05","2024-02-12","2024-02-20","2024-02-26","2024-03-04","2024-03-11","2024-03-18","2024-03-25","2024-04-01","2024-04-08","2024-04-15","2024-04-22","2024-04-29","2024-05-06","2024-05-13","2024-05-20","2024-05-28","2024-06-03","2024-06-10","2024-06-17","2024-06-24","2024-07-01","2024-07-08","2024-07-15","2024-07-22","2024-07-29","2024-08-05","2024-08-12","2024-08-19","2024-08-26","2024-09-02"],
    "labelExpr":"datum.value=='2024-01-02'?'1. Jan':datum.value=='2024-01-16'?'15. Jan':datum.value=='2024-02-20'?'19. Feb':datum.value=='2024-05-28'?'27. May':utcFormat(toDate(datum.value),'%-d. %b')",
    "orient":"bottom","labels":true,"domain":true,"ticks":true,
    "labelAngle":0,"labelFontSize":7,"labelColor":"#333","labelFont":"Liberation Sans Narrow, Lato, sans-serif","labelPadding":2,"labelOverlap":false,
    "domainColor":"#444","tickColor":"#444","tickSize":4,"grid":false,
    "title":"©2024 TrendSpider","titleFontSize":6,"titleFontWeight":"normal","titleColor":"#444","titleAnchor":"start","titleAlign":"left","titleX":7,"titleY":21,"titleBaseline":"middle"}},
  "y":{"field":"l","type":"quantitative","scale":{"domain":[1.68,72.24],"nice":false,"zero":false},
   "axis":{"orient":"right","values":[5,10,15,25,30,35,40,45,50,55,60,65],"format":".2f","labels":true,"domain":false,"ticks":false,"grid":false,"labelAlign":"right","labelPadding":-6.5,"labelBaseline":"bottom","labelFontSize":7,"labelColor":"#333","labelFont":"Liberation Sans Narrow, Lato, sans-serif","title":null}},
  "y2":{"field":"h"},
  "color":{"condition":{"test":"datum.c >= datum.o","value":"#26a69a"},"value":"#ef5350"}}},
{"data":{"name":"candles"},"mark":{"type":"bar","size":4},
 "encoding":{
  "x":{"field":"d","type":"ordinal"},
  "y":{"field":"o","type":"quantitative"},
  "y2":{"field":"c"},
  "color":{"condition":{"test":"datum.c >= datum.o","value":"#26a69a"},"value":"#ef5350"}}},
{"data":{"values":[{}]},"mark":{"type":"rule","strokeDash":[2,2],"color":"#f2904a","strokeWidth":1},
 "encoding":{"y":{"datum":20.37,"type":"quantitative"}}},
{"data":{"name":"long"},"mark":{"type":"line","strokeWidth":1.5},
 "encoding":{
  "x":{"field":"d","type":"ordinal"},
  "y":{"field":"v","type":"quantitative"},
  "color":{"field":"s","type":"nominal",
   "scale":{"domain":["s200","e8","e15","e20","x200","e5","s50","e10","dr"],"range":["#4b2a8f","#f2c313","#2525d6","#c22ee0","#c2185b","#9c1717","#1c3f94","#237a23","#777777"]},
   "legend":{"orient":"none","legendX":10.35,"legendY":37,"padding":0,"title":"$VIX, Daily, Candles chart","titleFontSize":7.5,"titleFontWeight":"normal","titleColor":"#222","titlePadding":8,"titleFont":"Lato",
    "labelFontSize":7.5,"labelFont":"Lato","symbolSize":0,"symbolStrokeWidth":0,"symbolOpacity":0,"labelOffset":-7,"rowPadding":2.55,
    "labelExpr":"datum.value=='s200'?'SMA (200, 0, close), Daily':datum.value=='e8'?'EMA (8, 0, close), Daily':datum.value=='e15'?'EMA (15, 0, close), Daily':datum.value=='e20'?'EMA (20, 0, close), Daily':datum.value=='x200'?'EMA (200, 0, close), Daily':datum.value=='e5'?'EMA (5, 0, close), Daily':datum.value=='s50'?'SMA (50, 0, close), Daily':datum.value=='e10'?'EMA (10, 0, close), Daily':'Drawings, Daily'",
    "labelColor":{"expr":"datum.value=='s200'?'#8a80cf':datum.value=='e8'?'#f2c94c':datum.value=='e15'?'#6c5ce7':datum.value=='e20'?'#d35fe8':datum.value=='x200'?'#d8507e':datum.value=='e5'?'#d9534f':datum.value=='s50'?'#5b7fc7':datum.value=='e10'?'#58a85a':'#5a5a5a'"}}}}},
{"data":{"name":"ema"},"transform":[{"fold":["e5","e8","e10","e15","e20"],"as":["s","v"]}],"mark":{"type":"line","strokeWidth":1.5},
 "encoding":{
  "x":{"field":"d","type":"ordinal"},
  "y":{"field":"v","type":"quantitative"},
  "color":{"field":"s","type":"nominal",
   "scale":{"domain":["s200","e8","e15","e20","x200","e5","s50","e10","dr"],"range":["#4b2a8f","#f2c313","#2525d6","#c22ee0","#c2185b","#9c1717","#1c3f94","#237a23","#777777"]}}}},
{"data":{"values":[{}]},"mark":{"type":"point","shape":"M-1,-0.42L1,-0.42L1,0.42L-1,0.42Z","size":576,"filled":true,"color":"#e84a3f","opacity":1},
 "encoding":{"x":{"datum":"2024-09-02","type":"ordinal"},"y":{"datum":20.37,"type":"quantitative"}}},
{"data":{"values":[{}]},"mark":{"type":"text","text":"20.37","fontSize":7,"color":"white","align":"center","baseline":"middle","font":"Liberation Sans Narrow, Lato, sans-serif"},
 "encoding":{"x":{"datum":"2024-09-02","type":"ordinal"},"y":{"datum":20.37,"type":"quantitative"}}},
{"data":{"values":[{}]},"mark":{"type":"text","text":"$VIX","fontSize":52,"fontWeight":"bold","color":"#c9c9c9","align":"center","baseline":"middle","dx":2.3},
 "encoding":{"x":{"datum":"2024-04-19","type":"ordinal"},"y":{"datum":37.47,"type":"quantitative"}}},
{"data":{"values":[{}]},"mark":{"type":"text","text":"Cboe volatility index","fontSize":22.5,"color":"#c3c3c3","align":"center","baseline":"middle","dx":2.3},
 "encoding":{"x":{"datum":"2024-04-19","type":"ordinal"},"y":{"datum":33.64,"type":"quantitative"}}},
{"data":{"values":[{}]},"mark":{"type":"text","text":"✳","fontSize":14,"color":"#2e9c8f","align":"center","baseline":"middle","dx":5},
 "encoding":{"x":{"datum":"2023-12-04","type":"ordinal"},"y":{"datum":70.37,"type":"quantitative"}}},
{"data":{"values":[{}]},"mark":{"type":"text","text":"Trend","fontSize":15.5,"fontWeight":"bold","color":"#1a1a1a","align":"left","baseline":"middle","dx":15},
 "encoding":{"x":{"datum":"2023-12-04","type":"ordinal"},"y":{"datum":70.37,"type":"quantitative"}}},
{"data":{"values":[{}]},"mark":{"type":"text","text":"Spider","fontSize":15.5,"color":"#1a1a1a","align":"left","baseline":"middle","dx":54},
 "encoding":{"x":{"datum":"2023-12-04","type":"ordinal"},"y":{"datum":70.37,"type":"quantitative"}}},
{"data":{"values":[{}]},"mark":{"type":"text","text":"Aug 12, 2024 6:16AM EDT","fontSize":7.5,"color":"#444","align":"left","baseline":"middle","dx":105},
 "encoding":{"x":{"datum":"2023-12-04","type":"ordinal"},"y":{"datum":70.28,"type":"quantitative"}}},
{"data":{"values":[{}]},"mark":{"type":"text","text":"Exchange: EDT","fontSize":6.5,"color":"#333","align":"right","baseline":"middle","dx":7,"font":"Liberation Sans Narrow, Lato, sans-serif"},
 "encoding":{"x":{"datum":"2024-09-04","type":"ordinal"},"y":{"datum":2.24,"type":"quantitative"}}}
]
}
